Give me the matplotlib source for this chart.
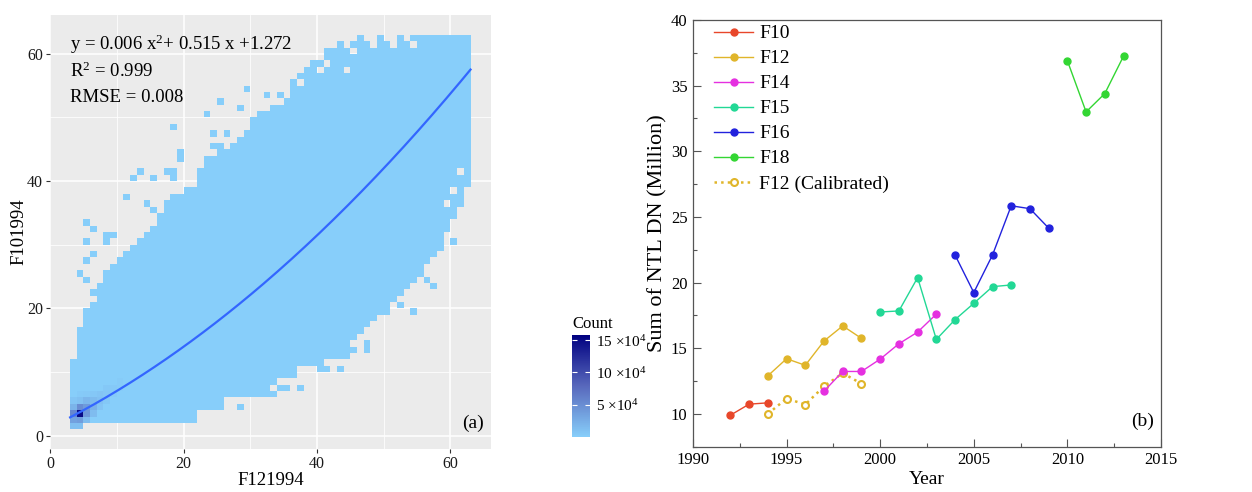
import numpy as np
import matplotlib
matplotlib.use("Agg")
import matplotlib.pyplot as plt
from matplotlib.colors import LinearSegmentedColormap
from matplotlib.ticker import MultipleLocator

plt.rcParams['font.family'] = ['Liberation Serif', 'DejaVu Serif']
plt.rcParams['mathtext.fontset'] = 'custom'
plt.rcParams['mathtext.rm'] = 'Liberation Serif'
plt.rcParams['mathtext.it'] = 'Liberation Serif:italic'

# ---------------- Panel (a) data: 2D-bin counts -------------
# body of the histogram: for each x-bin (F121994), lowest and highest filled y-bin
bin_x = list(range(3, 63))
body_low = [1, 1, 2, 2, 2, 2, 2, 2, 2, 2, 2, 2, 2, 2, 2, 2, 2, 2, 2,
            4, 4, 4, 4, 6, 6, 6, 6, 6, 6, 6, 8, 9, 9, 9, 11, 11, 11, 11,
            12, 12, 12, 13, 15, 16, 17, 18, 19, 19, 21, 22, 23, 24, 25,
            27, 28, 30, 32, 34, 36, 39]
body_high = [11, 16, 17, 20, 22, 25, 26, 27, 28, 29, 30, 31, 32, 34, 36,
             37, 37, 38, 38, 41, 43, 43, 44, 44, 45, 46, 47, 49, 50, 50,
             51, 51, 52, 55, 56, 57, 58, 58, 59, 60, 60, 60, 61, 61, 61,
             61, 61, 61, 61, 61, 61, 62, 62, 62, 62, 62, 62, 62, 62, 62]
body_count = 300
# isolated bins outside the body (x, y)
outlier_bins = [(18, 48), (23, 50), (25, 52), (29, 54), (28, 51), (24, 47), (26, 47),
                (32, 53), (34, 53), (24, 45), (25, 45), (19, 43), (19, 44), (12, 40),
                (13, 41), (15, 40), (11, 37), (14, 36), (15, 35), (17, 41), (18, 41),
                (18, 40), (5, 33), (6, 32), (5, 30), (5, 27), (6, 28), (4, 25), (5, 24),
                (6, 22), (7, 23), (5, 19), (5, 18), (6, 18), (8, 30), (9, 31), (8, 31),
                (28, 4), (32, 6), (33, 6), (34, 7), (35, 7), (37, 7), (40, 10), (41, 10),
                (39, 11), (43, 10), (44, 12), (45, 13), (47, 13), (47, 14), (49, 20),
                (50, 19), (52, 20), (54, 19), (56, 24), (57, 23), (60, 30), (58, 29),
                (41, 60), (43, 61), (46, 62), (49, 62), (52, 62)]
# empty bins inside the body (x, y)
hole_bins = [(41, 58), (44, 57), (48, 61), (51, 61), (37, 55), (40, 57), (45, 60),
             (54, 61), (59, 36), (61, 41), (60, 38)]
# dense bins near the origin (x, y, count)
dense_x = [4, 3, 3, 4, 5, 5, 4, 3, 3, 4, 5, 6, 6, 6, 5, 4, 7, 7, 7, 8, 8, 8, 9, 9, 10, 10, 6, 3, 5, 4]
dense_y = [3, 3, 2, 2, 3, 4, 4, 4, 1, 1, 2, 3, 4, 5, 5, 5, 4, 5, 6, 5, 6, 7, 6, 7, 7, 8, 6, 5, 6, 6]
dense_n = [150000, 55000, 35000, 38000, 42000, 40000, 50000, 20000, 12000, 12000,
           14000, 14000, 22000, 15000, 18000, 10000, 8000, 11000, 8000, 5000,
           6000, 4500, 3500, 4000, 2500, 2500, 6000, 7000, 4000, 3500]
fit_coef = [0.006, 0.515, 1.272]
fit_range = [3, 63]

# ---------------- Panel (b) data --------------------------------------------------
years_f10 = [1992, 1993, 1994]
vals_f10 = [9.9, 10.74, 10.84]
years_f12 = [1994, 1995, 1996, 1997, 1998, 1999]
vals_f12 = [12.9, 14.2, 13.7, 15.55, 16.7, 15.75]
years_f14 = [1997, 1998, 1999, 2000, 2001, 2002, 2003]
vals_f14 = [11.73, 13.23, 13.23, 14.17, 15.34, 16.23, 17.6]
years_f15 = [2000, 2001, 2002, 2003, 2004, 2005, 2006, 2007]
vals_f15 = [17.76, 17.84, 20.38, 15.67, 17.18, 18.42, 19.69, 19.82]
years_f16 = [2004, 2005, 2006, 2007, 2008, 2009]
vals_f16 = [22.1, 19.24, 22.1, 25.85, 25.63, 24.15]
years_f18 = [2010, 2011, 2012, 2013]
vals_f18 = [36.9, 33.0, 34.4, 37.25]
years_f12c = [1994, 1995, 1996, 1997, 1998, 1999]
vals_f12c = [10.0, 11.17, 10.71, 12.1, 13.1, 12.3]

# ---------------- build the count grid ------------------------------------------
counts = np.zeros((64, 64))
for x, lo, hi in zip(bin_x, body_low, body_high):
    counts[lo:hi + 1, x] = body_count
for x, y in outlier_bins:
    counts[y, x] = body_count
for x, y in hole_bins:
    counts[y, x] = 0
for x, y, n in zip(dense_x, dense_y, dense_n):
    counts[y, x] = n
masked = np.ma.masked_equal(counts, 0)

cmap = LinearSegmentedColormap.from_list(
    'gg', [(0, '#87CEFA'), (0.5, '#5868BC'), (1, '#000080')])

fig = plt.figure(figsize=(12.52, 4.92), dpi=100)

# ---------------- Panel (a) -------------------------------------------------------
ax1 = fig.add_axes([0.040, 0.0874, 0.3518, 0.882])
ax1.set_facecolor('#EBEBEB')
edges = np.arange(0, 65)
mesh = ax1.pcolormesh(edges, edges, masked, cmap=cmap, vmin=0, vmax=158000, zorder=2)
xs = np.linspace(fit_range[0], fit_range[1], 200)
ys = np.polyval(fit_coef, xs)
ax1.plot(xs, ys, color='#3366FF', lw=1.6, zorder=3)
ax1.set_xlim(0, 66)
ax1.set_ylim(-2.1, 66.1)
for a in (ax1.xaxis, ax1.yaxis):
    a.set_major_locator(MultipleLocator(20))
    a.set_minor_locator(MultipleLocator(10))
ax1.grid(which='major', color='white', lw=1.1, zorder=0)
ax1.grid(which='minor', color='white', lw=0.55, zorder=0)
ax1.set_axisbelow(True)
for s in ax1.spines.values():
    s.set_visible(False)
ax1.tick_params(which='major', length=3, width=0.8, color='#333333', labelsize=11.5,
                labelcolor='#1a1a1a', pad=2)
ax1.tick_params(which='minor', length=0)
ax1.set_xlabel('F121994', fontsize=13.5, labelpad=0)
ax1.set_ylabel('F101994', fontsize=13.5, labelpad=0)
ax1.text(0.045, 0.933, 'y = 0.006 x$^{2}$+ 0.515 x +1.272', transform=ax1.transAxes,
         fontsize=13.5, va='center', ha='left')
ax1.text(0.045, 0.871, 'R$^{2}$ = 0.999', transform=ax1.transAxes,
         fontsize=13.5, va='center', ha='left')
ax1.text(0.045, 0.811, 'RMSE = 0.008', transform=ax1.transAxes,
         fontsize=13.5, va='center', ha='left')
ax1.text(0.985, 0.04, '(a)', transform=ax1.transAxes, fontsize=14, va='bottom', ha='right')

cax = fig.add_axes([0.4569, 0.1118, 0.0144, 0.2072])
cb = fig.colorbar(mesh, cax=cax, ticks=[50000, 100000, 150000])
cb.outline.set_visible(False)
cb.ax.set_yticklabels(['5 \u00d710$^{4}$', '10 \u00d710$^{4}$', '15 \u00d710$^{4}$'])
cax.tick_params(direction='in', color='white', length=3.5, width=0.8, left=True,
                right=True, labelsize=11, pad=4)
cax.set_title('Count', fontsize=12, loc='left', pad=5)

# ---------------- Panel (b) -------------------------------------------------------
ax2 = fig.add_axes([0.5535, 0.0921, 0.3738, 0.8672])
series = [
    ('F10', years_f10, vals_f10, '#E8472A'),
    ('F12', years_f12, vals_f12, '#E0B52A'),
    ('F14', years_f14, vals_f14, '#E530E0'),
    ('F15', years_f15, vals_f15, '#22D895'),
    ('F16', years_f16, vals_f16, '#2222DD'),
    ('F18', years_f18, vals_f18, '#33D633'),
]
handles = []
hc, = ax2.plot(years_f12c, vals_f12c, ls=':', lw=1.8, color='#E0B52A', marker='o',
               ms=5, mfc='white', mec='#E0B52A', mew=1.5, zorder=2,
               label='F12 (Calibrated)')
for name, yrs, vals, col in series:
    h, = ax2.plot(yrs, vals, '-', lw=1.0, color=col, marker='o', ms=5, mec=col,
                  mfc=col, zorder=3, label=name)
    handles.append(h)
handles.append(hc)
ax2.set_xlim(1990, 2015)
ax2.set_ylim(7.5, 40)
ax2.xaxis.set_major_locator(MultipleLocator(5))
ax2.xaxis.set_minor_locator(MultipleLocator(2.5))
ax2.yaxis.set_major_locator(MultipleLocator(5))
ax2.yaxis.set_minor_locator(MultipleLocator(2.5))
ax2.tick_params(which='both', direction='in', color='#555555', labelsize=12, pad=4)
ax2.tick_params(which='major', length=6, width=0.8)
ax2.tick_params(which='minor', length=3, width=0.8)
for s in ax2.spines.values():
    s.set_color('#555555')
    s.set_linewidth(0.9)
ax2.set_xlabel('Year', fontsize=14, labelpad=2)
ax2.set_ylabel('Sum of NTL DN (Million)', fontsize=16, labelpad=2)
ax2.legend(handles=handles, loc='upper left', bbox_to_anchor=(0.035, 1.0),
           frameon=False, fontsize=14, labelspacing=0.38, handlelength=2.0,
           handletextpad=0.3, borderaxespad=0, borderpad=0.25)
ax2.text(0.985, 0.04, '(b)', transform=ax2.transAxes, fontsize=14, va='bottom', ha='right')

fig.savefig('out.png', dpi=100)
